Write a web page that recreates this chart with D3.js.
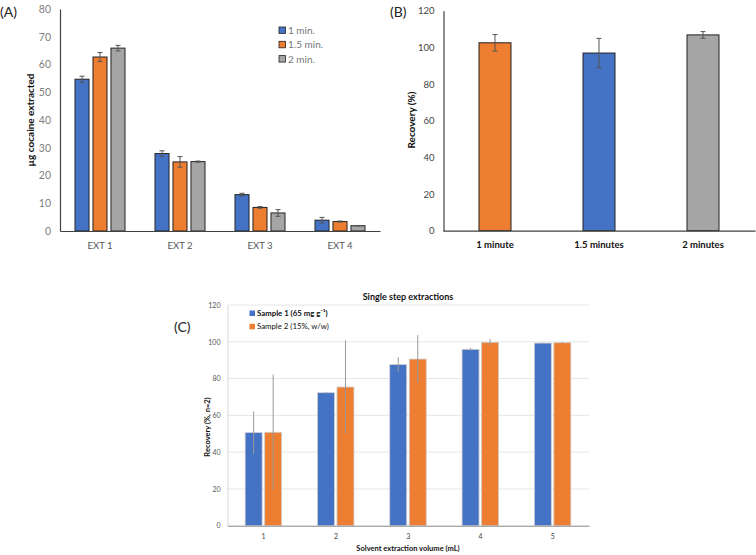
<!DOCTYPE html>
<html><head><meta charset="utf-8">
<script src="https://cdn.jsdelivr.net/npm/d3@7"></script>
<style>body{margin:0;background:#fff}svg{display:block}text{font-family:Lato,"Open Sans",sans-serif}</style>
</head><body><svg id="c" width="756" height="555"></svg>
<script>
// Panel A data
const catsA = ["EXT 1","EXT 2","EXT 3","EXT 4"];
const seriesA = ["1 min.","1.5 min.","2 min."];
const valsA1 = [54.7, 27.9, 13.1, 3.9];
const valsA15 = [62.7, 24.9, 8.5, 3.4];
const valsA2 = [65.9, 25.0, 6.5, 1.9];
const errA1 = [1.1, 1.0, 0.5, 1.0];
const errA15 = [1.6, 1.9, 0.3, 0.2];
const errA2 = [1.0, 0.2, 1.2, 0.1];
const ticksA = [0,10,20,30,40,50,60,70,80];
// Panel B data
const catsB = ["1 minute","1.5 minutes","2 minutes"];
const valsB = [102.5, 96.9, 106.8];
const errB = [4.5, 8.0, 1.8];
const ticksB = [0,20,40,60,80,100,120];
// Panel C data
const catsC = ["1","2","3","4","5"];
const seriesC = ["Sample 1 (65 mg g\u207B\u00B9)","Sample 2 (15%, w/w)"];
const valsC1 = [50.6, 72.3, 87.6, 95.9, 99.3];
const valsC2 = [50.8, 75.4, 90.6, 99.7, 99.5];
const errC1 = [11.6, 0.5, 4.0, 0.7, 0.2];
const errC2 = [31.4, 25.4, 13.0, 1.7, 0.3];
const ticksC = [0,20,40,60,80,100,120];

const BLUE="#4472C4", ORANGE="#ED7D31", GRAY="#A5A5A5";
const svg = d3.select("#c");
svg.append("rect").attr("width",756).attr("height",555).attr("fill","#fff");

function errBars(g, data, col, capW){
  data.forEach(d=>{
    g.append("line").attr("x1",d.x).attr("x2",d.x).attr("y1",d.yl).attr("y2",d.yh).attr("stroke",col).attr("stroke-width",1);
    if(capW>0){
      g.append("line").attr("x1",d.x-capW).attr("x2",d.x+capW).attr("y1",d.yl).attr("y2",d.yl).attr("stroke",col);
      g.append("line").attr("x1",d.x-capW).attr("x2",d.x+capW).attr("y1",d.yh).attr("y2",d.yh).attr("stroke",col);
    }
  });
}

// ---------- Panel A ----------
(function(){
  const g = svg.append("g");
  const x = d3.scaleBand().domain(catsA).range([60,380]);
  const y = d3.scaleLinear().domain([0,80]).range([231,9]);
  const xs = d3.scaleBand().domain(seriesA).range([0,50]).paddingInner(0.22);
  const vals=[valsA1,valsA15,valsA2], errs=[errA1,errA15,errA2], cols=[BLUE,ORANGE,GRAY];
  const yAxis = d3.axisLeft(y).tickValues(ticksA).tickSize(0).tickPadding(9);
  const ya = g.append("g").attr("transform","translate(60,0)").call(yAxis);
  ya.select(".domain").attr("stroke","#404040").attr("stroke-width",1.2);
  ya.selectAll("text").attr("fill","#808080").attr("font-size",10.5);
  seriesA.forEach((s,i)=>{
    catsA.forEach((c,j)=>{
      const bx = x(c)+15+xs(s);
      g.append("rect").attr("x",bx).attr("y",y(vals[i][j])).attr("width",xs.bandwidth()).attr("height",y(0)-y(vals[i][j]))
        .attr("fill",cols[i]).attr("stroke","#222").attr("stroke-width",1);
      errBars(g,[{x:bx+xs.bandwidth()/2,yl:y(vals[i][j]-errs[i][j]),yh:y(vals[i][j]+errs[i][j])}],"#555",2.5);
    });
  });
  const xa = g.append("g").attr("transform","translate(0,231)").call(d3.axisBottom(x).tickSize(0).tickPadding(11));
  xa.select(".domain").attr("stroke","#404040").attr("stroke-width",1.2);
  xa.selectAll("text").attr("fill","#555").attr("font-size",9.5);
  g.append("text").attr("transform","translate(34,120) rotate(-90)").attr("text-anchor","middle")
    .attr("font-weight","bold").attr("font-size",10).attr("fill","#111").text("\u00B5g cocaine extracted");
  g.append("text").attr("x",0).attr("y",17).attr("font-size",14).attr("fill","#222").text("(A)");
  seriesA.forEach((s,i)=>{
    const ly = 31 + i*14.3;
    g.append("rect").attr("x",279).attr("y",ly-4).attr("width",6.5).attr("height",6.5).attr("fill",cols[i]).attr("stroke","#222").attr("stroke-width",0.8);
    g.append("text").attr("x",288).attr("y",ly+3).attr("font-size",10).attr("fill","#777").text(s);
  });
})();

// ---------- Panel B ----------
(function(){
  const g = svg.append("g");
  const x = d3.scaleBand().domain(catsB).range([443,755]);
  const y = d3.scaleLinear().domain([0,120]).range([230.7,10.7]);
  const cols=[ORANGE,BLUE,GRAY];
  const ya = g.append("g").attr("transform","translate(443.5,0)").call(d3.axisLeft(y).tickValues(ticksB).tickSize(0).tickPadding(9));
  ya.select(".domain").attr("stroke","#404040").attr("stroke-width",1.2);
  ya.selectAll("text").attr("fill","#444").attr("font-size",9.5);
  catsB.forEach((c,j)=>{
    const bw=32, bx=x(c)+x.bandwidth()/2-bw/2;
    g.append("rect").attr("x",bx).attr("y",y(valsB[j])).attr("width",bw).attr("height",y(0)-y(valsB[j]))
      .attr("fill",cols[j]).attr("stroke","#222").attr("stroke-width",1);
    errBars(g,[{x:bx+bw/2,yl:y(valsB[j]-errB[j]),yh:y(valsB[j]+errB[j])}],"#555",2.5);
  });
  const xa = g.append("g").attr("transform","translate(0,230.7)").call(d3.axisBottom(x).tickSize(0).tickPadding(11));
  xa.select(".domain").attr("stroke","#404040").attr("stroke-width",1.2);
  xa.selectAll("text").attr("fill","#111").attr("font-size",9.5).attr("font-weight","bold");
  g.append("text").attr("transform","translate(415,120) rotate(-90)").attr("text-anchor","middle")
    .attr("font-weight","bold").attr("font-size",10).attr("fill","#111").text("Recovery (%)");
  g.append("text").attr("x",390).attr("y",17).attr("font-size",14).attr("fill","#222").text("(B)");
})();

// ---------- Panel C ----------
(function(){
  const g = svg.append("g");
  const x = d3.scaleBand().domain(catsC).range([227.5,589]);
  const y = d3.scaleLinear().domain([0,120]).range([525.7,305]);
  ticksC.filter(t=>t>0).forEach(t=>{
    g.append("line").attr("x1",227.5).attr("x2",589).attr("y1",y(t)).attr("y2",y(t)).attr("stroke","#e6e6e6").attr("stroke-width",1);
  });
  const ya = g.append("g").attr("transform","translate(227.5,0)").call(d3.axisLeft(y).tickValues(ticksC).tickSize(0).tickPadding(7));
  ya.select(".domain").attr("stroke","#d9d9d9").attr("stroke-width",1);
  ya.selectAll("text").attr("fill","#555").attr("font-size",7);
  const xs = d3.scaleBand().domain(seriesC).range([0,36.5]).paddingInner(0.13);
  const vals=[valsC1,valsC2], errs=[errC1,errC2], cols=[BLUE,ORANGE];
  seriesC.forEach((s,i)=>{
    catsC.forEach((c,j)=>{
      const bx = x(c)+x.bandwidth()/2-18.5+xs(s);
      g.append("rect").attr("x",bx).attr("y",y(vals[i][j])).attr("width",xs.bandwidth()).attr("height",y(0)-y(vals[i][j]))
        .attr("fill",cols[i]).attr("stroke","#cfcfcf").attr("stroke-width",0.8);
      errBars(g,[{x:bx+xs.bandwidth()/2,yl:y(vals[i][j]-errs[i][j]),yh:y(vals[i][j]+errs[i][j])}],"#999",0);
    });
  });
  const xa = g.append("g").attr("transform","translate(0,525.7)").call(d3.axisBottom(x).tickSize(0).tickPadding(8));
  xa.select(".domain").attr("stroke","#888").attr("stroke-width",1);
  xa.selectAll("text").attr("fill","#444").attr("font-size",7);
  g.append("text").attr("x",408).attr("y",300).attr("text-anchor","middle").attr("font-weight","bold").attr("font-size",9).attr("fill","#111").text("Single step extractions");
  g.append("text").attr("x",408).attr("y",551).attr("text-anchor","middle").attr("font-weight","bold").attr("font-size",7.5).attr("fill","#111").text("Solvent extraction volume (mL)");
  g.append("text").attr("transform","translate(210,427) rotate(-90)").attr("text-anchor","middle")
    .attr("font-weight","bold").attr("font-size",7.5).attr("fill","#111").text("Recovery (%, n=2)");
  g.append("text").attr("x",174).attr("y",332).attr("font-size",14).attr("fill","#222").text("(C)");
  seriesC.forEach((s,i)=>{
    const ly = 313.5 + i*13.3;
    g.append("rect").attr("x",249.5).attr("y",ly-3).attr("width",5.5).attr("height",5.5).attr("fill",cols[i]);
    g.append("text").attr("x",257).attr("y",ly+2.5).attr("font-size",7.8).attr("fill","#111")
      .attr("font-weight",i===0?"bold":"normal").text(s);
  });
})();
</script></body></html>
